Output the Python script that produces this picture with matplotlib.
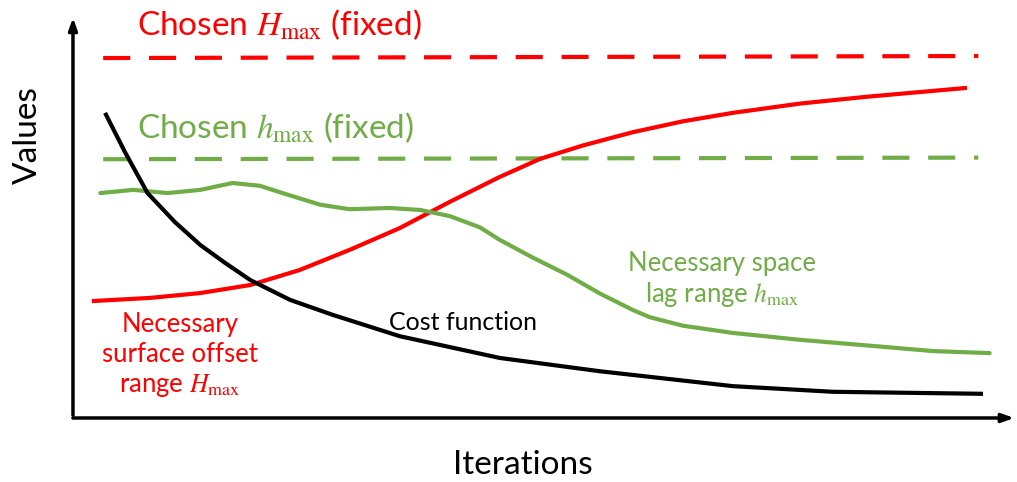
import matplotlib
matplotlib.use("Agg")
import matplotlib.pyplot as plt

plt.rcParams['font.family'] = ['Lato', 'DejaVu Sans']
plt.rcParams['mathtext.fontset'] = 'stix'

RED = "#FF0000"
GREEN = "#70AD47"

# schematic curves (iterations 0-100, values 0-100)
dash_x = [3.2, 95.9]
chosen_H = [89.3, 89.8]
chosen_h = [64.2, 64.6]

red_x = [2.0, 8.2, 13.5, 18.8, 24.0, 29.3, 34.6, 39.9, 45.2, 49.5, 54.0,
         59.3, 64.6, 69.9, 77.0, 84.1, 94.7]
red_y = [29.0, 29.8, 31.0, 33.0, 36.7, 41.7, 47.1, 53.6, 59.8, 64.3, 67.6,
         70.9, 73.6, 75.7, 78.0, 79.7, 81.9]

cost_x = [3.4, 5.5, 7.9, 10.8, 13.5, 16.1, 18.8, 23.0, 27.5, 34.6, 45.2,
          55.8, 69.9, 80.5, 96.4]
cost_y = [75.7, 66.0, 55.8, 48.6, 42.9, 38.5, 34.2, 29.3, 25.6, 20.3, 14.9,
          11.6, 7.9, 6.5, 6.0]

green_x = [2.9, 6.4, 10.0, 13.5, 16.9, 19.8, 22.2, 26.2, 29.3, 33.6, 36.8,
           39.9, 43.1, 45.2, 48.7, 52.3, 55.8, 59.3, 61.1, 64.6, 69.9, 77.0,
           84.1, 91.1, 97.1]
green_y = [55.8, 56.6, 55.8, 56.6, 58.3, 57.6, 55.8, 52.9, 51.8, 52.1, 51.6,
           50.1, 47.3, 44.2, 39.8, 35.6, 30.9, 26.8, 25.0, 22.9, 21.1, 19.4,
           18.0, 16.6, 16.1]

fig = plt.figure(figsize=(10.17, 4.82), dpi=100)
ax = fig.add_axes([0, 0, 1, 1])
ax.set_xlim(-7.73, 100)
ax.set_ylim(-15.88, 103.7)
ax.axis("off")

# axes with arrows
ax.annotate("", xy=(0, 100), xytext=(0, 0),
            arrowprops=dict(arrowstyle="-|>,head_length=0.7,head_width=0.25", lw=2.5, color="black"))
ax.annotate("", xy=(100, 0), xytext=(-0.3, 0),
            arrowprops=dict(arrowstyle="-|>,head_length=0.7,head_width=0.25", lw=2.5, color="black"))

ax.plot(dash_x, chosen_H, color=RED, lw=3, dashes=(6.5, 4.5))
ax.plot(dash_x, chosen_h, color=GREEN, lw=3, dashes=(6.5, 4.5))
ax.plot(red_x, red_y, color=RED, lw=3, solid_capstyle="butt", solid_joinstyle="round")
ax.plot(green_x, green_y, color=GREEN, lw=3, solid_capstyle="round", solid_joinstyle="round")
ax.plot(cost_x, cost_y, color="black", lw=3, solid_capstyle="butt", solid_joinstyle="round")

ax.text(6.8, 97.5, r"Chosen $H_{\max}$ (fixed)", color=RED, fontsize=24, va="center")
ax.text(6.8, 72.0, r"Chosen $h_{\max}$ (fixed)", color=GREEN, fontsize=24, va="center")
ax.text(-4.8, 70.2, "Values", rotation=90, fontsize=24, ha="center", va="center")
ax.text(47.6, -11.7, "Iterations", fontsize=24, ha="center", va="center")
ax.text(41.3, 23.6, "Cost function", fontsize=18, ha="center", va="center")
ax.text(11.3, 15.6, "Necessary\nsurface offset\nrange $H_{\\max}$", color=RED,
        fontsize=18.5, ha="center", va="center", linespacing=1.25)
ax.text(68.8, 34.2, "Necessary space\nlag range $h_{\\max}$", color=GREEN,
        fontsize=18.5, ha="center", va="center", linespacing=1.2)

fig.savefig("out.png", dpi=100)
